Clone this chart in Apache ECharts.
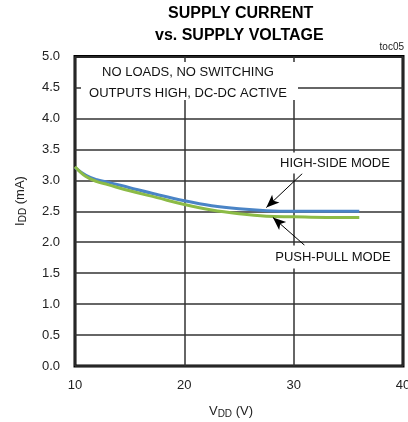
<!DOCTYPE html>
<html>
<head>
<meta charset="utf-8">
<script src="https://cdn.jsdelivr.net/npm/echarts@6/dist/echarts.min.js"></script>
<style>
html,body{margin:0;padding:0;background:#fff;}
#chart{width:408px;height:422px;}
</style>
</head>
<body>
<div id="chart"></div>
<script>
// Data
var vdd = [10, 11, 12, 13, 15, 17.5, 20, 22.5, 25, 27.5, 30, 33, 36];
var highSide = [3.21, 3.08, 3.01, 2.97, 2.88, 2.77, 2.67, 2.59, 2.54, 2.51, 2.50, 2.50, 2.50];
var pushPull = [3.22, 3.06, 2.98, 2.93, 2.83, 2.72, 2.61, 2.52, 2.46, 2.42, 2.41, 2.40, 2.40];
var xTicks = [10, 20, 30, 40];
var yTicks = [0, 0.5, 1, 1.5, 2, 2.5, 3, 3.5, 4, 4.5, 5];
// annotation arrows (data units): [tail, head]
var arrowHigh = [[30.8, 3.11], [27.5, 2.56]];
var arrowPush = [[31.0, 1.95], [28.1, 2.40]];

function pairs(xs, ys) { return xs.map(function (x, i) { return [x, ys[i]]; }); }

var FONT = '"Liberation Sans", Arial, sans-serif';
var chart = echarts.init(document.getElementById('chart'), null, {renderer: 'canvas'});
var option = {
  animation: false,
  backgroundColor: '#fff',
  textStyle: {fontFamily: FONT},
  grid: {
    left: 75, right: 5, top: 56.5, bottom: 56,
    show: true, borderColor: '#000', borderWidth: 3, backgroundColor: 'transparent',
    outerBoundsMode: 'none'
  },
  xAxis: {
    type: 'value', min: xTicks[0], max: xTicks[xTicks.length - 1], interval: 10,
    axisLine: {show: false}, axisTick: {show: false},
    splitLine: {show: true, lineStyle: {color: '#333', width: 1.5}},
    axisLabel: {color: '#222', fontSize: 13, margin: 13, fontFamily: FONT}
  },
  yAxis: {
    type: 'value', min: yTicks[0], max: yTicks[yTicks.length - 1], interval: 0.5,
    axisLine: {show: false}, axisTick: {show: false},
    splitLine: {show: true, lineStyle: {color: '#333', width: 1.5}},
    axisLabel: {color: '#222', fontSize: 13, margin: 15, fontFamily: FONT,
      formatter: function (v) { return v.toFixed(1); }}
  },
  series: [
    {
      name: 'HIGH-SIDE MODE', type: 'line', data: pairs(vdd, highSide),
      smooth: 0.4, showSymbol: false, z: 3,
      lineStyle: {color: '#4a84c6', width: 3},
      markLine: {
        silent: true, symbol: ['none', 'arrow'], symbolSize: [8, 13],
        lineStyle: {color: '#000', width: 1, type: 'solid'},
        label: {show: false},
        data: [[{coord: arrowHigh[0]}, {coord: arrowHigh[1]}],
               [{coord: arrowPush[0]}, {coord: arrowPush[1]}]]
      }
    },
    {
      name: 'PUSH-PULL MODE', type: 'line', data: pairs(vdd, pushPull),
      smooth: 0.4, showSymbol: false, z: 3,
      lineStyle: {color: '#8cbb46', width: 3}
    }
  ],
  graphic: [
    {type: 'text', left: 'center', x: 0, top: 6, z: 10,
      style: {text: 'SUPPLY CURRENT', font: 'bold 16px ' + FONT, fill: '#000'}, left: 168},
    {type: 'text', left: 155, top: 28, z: 10,
      style: {text: 'vs. SUPPLY VOLTAGE', font: 'bold 16px ' + FONT, fill: '#000'}},
    {type: 'text', right: 4, top: 42, z: 10,
      style: {text: 'toc05', font: '10px ' + FONT, fill: '#222'}},
    {type: 'rect', shape: {x: 81, y: 62, width: 217, height: 38}, z: 5,
      style: {fill: '#fff'}},
    {type: 'text', x: 188, y: 72, z: 10,
      style: {text: 'NO LOADS, NO SWITCHING', font: '13px ' + FONT, fill: '#111', align: 'center', verticalAlign: 'middle'}},
    {type: 'text', x: 188, y: 93, z: 10,
      style: {text: 'OUTPUTS HIGH, DC-DC ACTIVE', font: '13px ' + FONT, fill: '#111', align: 'center', verticalAlign: 'middle'}},
    {type: 'text', x: 335, y: 163, z: 10,
      style: {text: 'HIGH-SIDE MODE', font: '13px ' + FONT, fill: '#111', align: 'center', verticalAlign: 'middle',
        backgroundColor: '#fff', padding: [4, 2, 4, 2]}},
    {type: 'text', x: 333, y: 257, z: 10,
      style: {text: 'PUSH-PULL MODE', font: '13px ' + FONT, fill: '#111', align: 'center', verticalAlign: 'middle',
        backgroundColor: '#fff', padding: [5, 2, 5, 2]}},
    {type: 'text', x: 231, y: 411, z: 10,
      style: {
        text: '{n|V}{s|DD}{n| (V)}', align: 'center', verticalAlign: 'middle',
        rich: {n: {font: '13px ' + FONT, fill: '#222'}, s: {font: '10px ' + FONT, fill: '#222', padding: [6, 0, 0, 0]}}
      }},
    {type: 'text', x: 20, y: 201, rotation: Math.PI / 2, z: 10,
      style: {
        text: '{n|I}{s|DD}{n| (mA)}', align: 'center', verticalAlign: 'middle',
        rich: {n: {font: '13px ' + FONT, fill: '#222'}, s: {font: '10px ' + FONT, fill: '#222', padding: [6, 0, 0, 0]}}
      }}
  ]
};
chart.setOption(option);
</script>
</body>
</html>
